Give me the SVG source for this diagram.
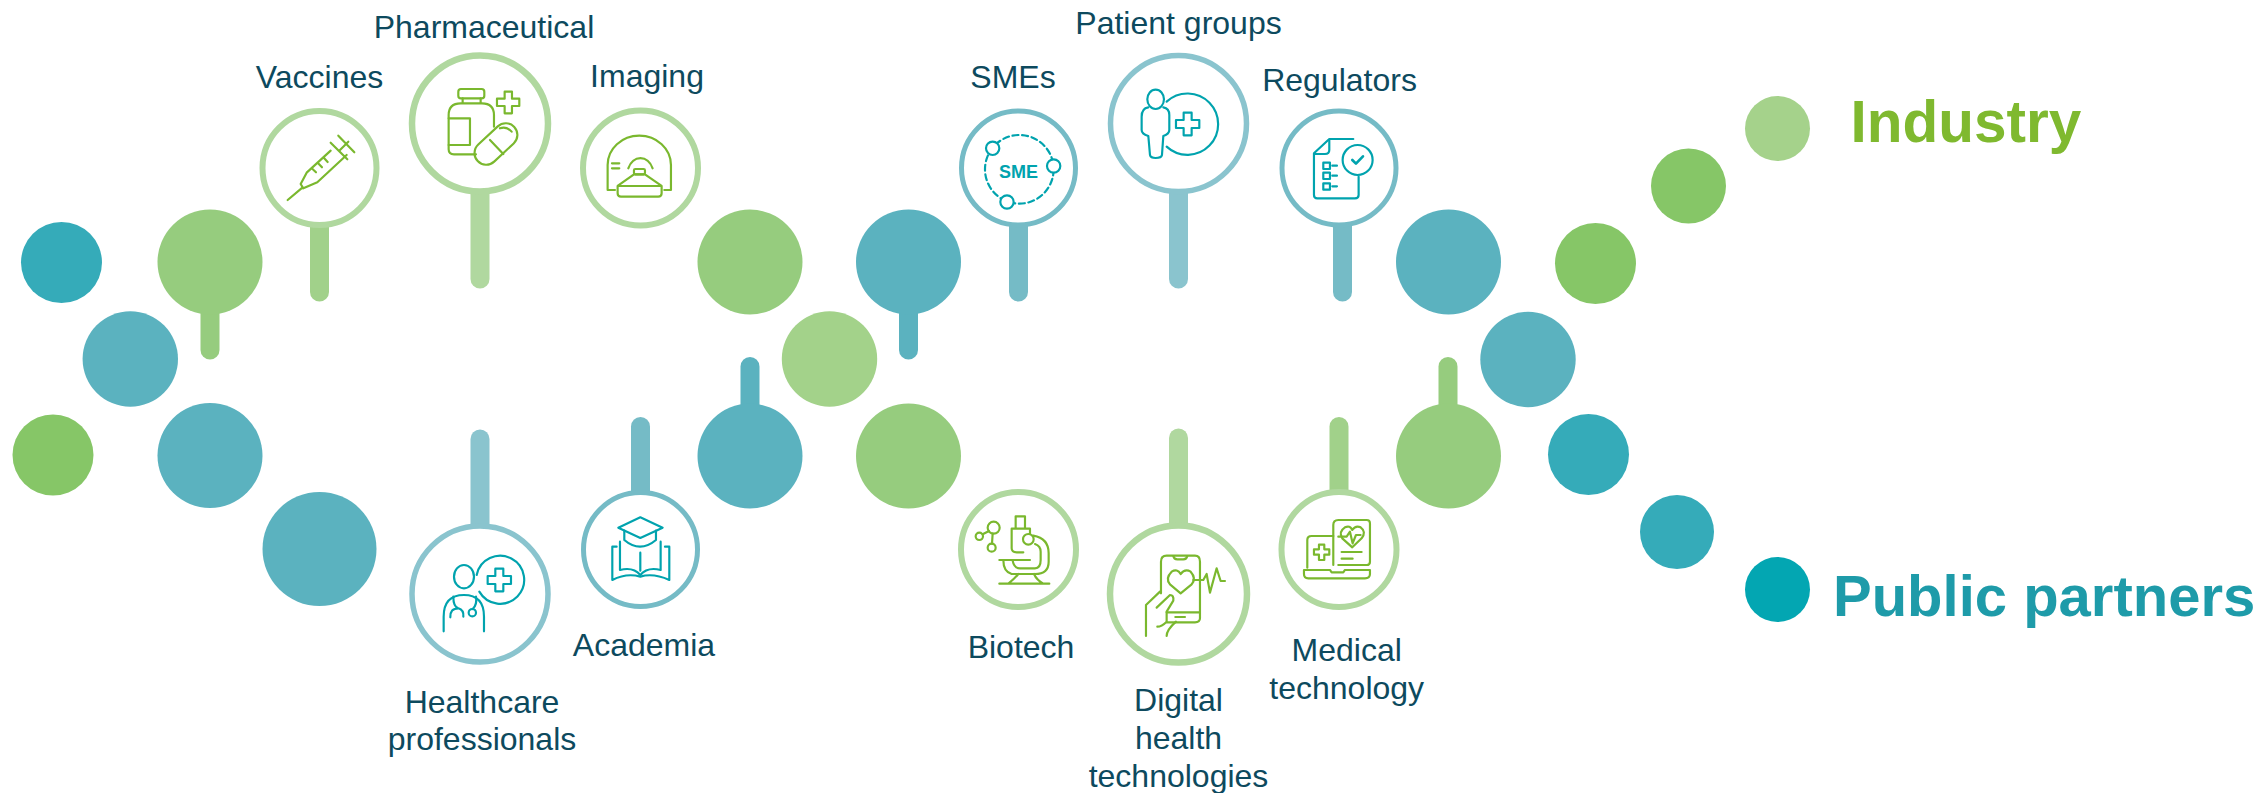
<svg xmlns="http://www.w3.org/2000/svg" width="2262" height="793" viewBox="0 0 2262 793">
<style>
.t{font-family:"Liberation Sans",Arial,sans-serif;font-size:32px;fill:#0D4A5E;text-anchor:middle}
.b{font-family:"Liberation Sans",Arial,sans-serif;font-weight:700}
.st{stroke-width:19;stroke-linecap:round;fill:none}
.ring{fill:#fff}
.ig{fill:none;stroke:#7AB82E;stroke-width:6.500;stroke-linecap:round;stroke-linejoin:round}
.it{fill:none;stroke:#00A3AE;stroke-width:6.500;stroke-linecap:round;stroke-linejoin:round}
.wf{fill:#fff}
.g1{fill:#96CC7E}.g2{fill:#86C667}.t1{fill:#5BB2BF}.t2{fill:#35ABB9}
</style>
<g id="connectors">
<line class="st" x1="210" y1="300" x2="210" y2="350" stroke="#96CC7E"/>
<line class="st" x1="319.500" y1="220" x2="319.500" y2="292" stroke="#A1D18A"/>
<line class="st" x1="480" y1="185" x2="480" y2="279" stroke="#B0D89F"/>
<line class="st" x1="480" y1="439" x2="480" y2="530" stroke="#8AC4CE"/>
<line class="st" x1="640.500" y1="426.500" x2="640.500" y2="496" stroke="#75BBC6"/>
<line class="st" x1="750" y1="366.500" x2="750" y2="420" stroke="#5BB2BF"/>
<line class="st" x1="908.500" y1="300" x2="908.500" y2="350" stroke="#5BB2BF"/>
<line class="st" x1="1018.500" y1="220" x2="1018.500" y2="292" stroke="#75BBC6"/>
<line class="st" x1="1178.500" y1="185" x2="1178.500" y2="279" stroke="#8AC4CE"/>
<line class="st" x1="1178.500" y1="438" x2="1178.500" y2="530" stroke="#B0D89F"/>
<line class="st" x1="1342.500" y1="220" x2="1342.500" y2="292" stroke="#75BBC6"/>
<line class="st" x1="1339" y1="426.500" x2="1339" y2="496" stroke="#A1D18A"/>
<line class="st" x1="1448" y1="366.500" x2="1448" y2="420" stroke="#96CC7E"/>
</g>
<g id="helix">
<circle class="t2" cx="61.500" cy="262.500" r="40.500"/>
<circle class="g1" cx="210" cy="262" r="52.500"/>
<circle class="t1" cx="130.300" cy="359" r="47.700"/>
<circle class="g2" cx="53" cy="455" r="40.500"/>
<circle class="t1" cx="210" cy="455.500" r="52.500"/>
<circle class="t1" cx="319.500" cy="549" r="57"/>
<circle class="g1" cx="750" cy="262" r="52.500"/>
<circle class="t1" cx="750" cy="456" r="52.500"/>
<circle cx="829.500" cy="359" r="47.700" fill="#A3D28A"/>
<circle class="t1" cx="908.500" cy="262" r="52.500"/>
<circle class="g1" cx="908.500" cy="456" r="52.500"/>
<circle class="t1" cx="1448.500" cy="262" r="52.500"/>
<circle class="g1" cx="1448.500" cy="456" r="52.500"/>
<circle class="t1" cx="1528" cy="359.500" r="47.700"/>
<circle class="g2" cx="1595.500" cy="263.500" r="40.500"/>
<circle class="t2" cx="1588.500" cy="454.500" r="40.500"/>
<circle class="g2" cx="1688.500" cy="186" r="37.500"/>
<circle class="t2" cx="1677" cy="532" r="37"/>
</g>
<g id="node-vaccines">
<circle class="ring" cx="319.500" cy="168" r="57" stroke="#B0D89F" stroke-width="6"/>
<g class="ig" transform="translate(240,0) scale(.3333)">
<path d="M143,600 L188,562 M182,552 L200,518 L272,452 M182,552 L190,565 L232,547 L320,465 M272,428 L322,478 M297,453 L325,425 M295,407 L343,457 M215,505 L228,517 M233,488 L246,502 M250,472 L263,486"/>
</g>
<text class="t" x="319.500" y="88">Vaccines</text>
</g>
<g id="node-pharmaceutical">
<circle class="ring" cx="480" cy="123.500" r="68" stroke="#B0D89F" stroke-width="6.500"/>
<g class="ig" transform="translate(240,0) scale(.3333)">
<rect x="655" y="267" width="78" height="28" rx="8"/>
<path d="M668,295 V310 M722,295 V310 M708,463 H642 Q626,463 626,448 V345 Q626,310 662,310 H726 Q762,310 762,345 V380"/>
<path d="M626,355 H690 V435 H626"/>
<path d="M794,275 H816 V296 H838 V318 H816 V340 H794 V318 H771 V296 H794 Z"/>
<rect x="693" y="397" width="150" height="70" rx="35" transform="rotate(-43 768 432)"/>
<path d="M750,420 L790,462 M780,385 Q800,378 815,395"/>
</g>
<text class="t" x="484" y="38">Pharmaceutical</text>
</g>
<g id="node-imaging">
<circle class="ring" cx="640.500" cy="168" r="57.500" stroke="#B0D89F" stroke-width="6"/>
<g class="ig" transform="translate(240,0) scale(.3333)">
<path d="M1125,570 H1103 V495 A95,88 0 0 1 1293,495 V570 H1273"/>
<path d="M1165,505 A40,52 0 0 1 1238,505"/>
<path d="M1133,558 L1182,523 H1215 L1265,558 V580 Q1265,590 1255,590 H1143 Q1133,590 1133,580 Z M1133,558 H1265"/>
<rect x="1182" y="507" width="33" height="16" rx="4"/>
<path d="M1116,490 H1138 M1116,505 H1138"/>
</g>
<text class="t" x="647" y="87">Imaging</text>
</g>
<g id="node-smes">
<circle class="ring" cx="1018.500" cy="168" r="57" stroke="#75BBC6" stroke-width="5"/>
<g class="it" transform="translate(940,0) scale(.3333)">
<circle cx="238" cy="508" r="103" stroke-dasharray="18 11"/>
<circle class="wf" cx="158" cy="445" r="20"/>
<circle class="wf" cx="341" cy="498" r="20"/>
<circle class="wf" cx="201" cy="606" r="20"/>
</g>
<text class="b" x="1018.500" y="177.500" font-size="18" fill="#00A3AE" text-anchor="middle">SME</text>
<text class="t" x="1013" y="88">SMEs</text>
</g>
<g id="node-patient-groups">
<circle class="ring" cx="1178.500" cy="123.500" r="68" stroke="#8AC4CE" stroke-width="5.500"/>
<g class="it" transform="translate(940,0) scale(.3333)">
<ellipse cx="647" cy="298" rx="25" ry="29"/>
<path d="M625,322 Q605,325 605,350 V390 Q605,402 625,408 Q628,440 630,465 Q632,474 647,474 Q664,474 666,465 L670,408 Q688,402 688,390 V345 Q688,325 670,322"/>
<path d="M680,305 A92,92 0 1 1 680,440"/>
<path d="M731,338 H755 V360 H778 V384 H755 V406 H731 V384 H708 V360 H731 Z"/>
</g>
<text class="t" x="1178.500" y="34">Patient groups</text>
</g>
<g id="node-regulators">
<circle class="ring" cx="1339" cy="168" r="57" stroke="#75BBC6" stroke-width="5"/>
<g class="it" transform="translate(940,0) scale(.3333)">
<path d="M1240,417 H1168 L1122,460 V585 Q1122,595 1132,595 H1245 Q1256,595 1256,585 V530"/>
<path d="M1168,420 V450 Q1168,462 1155,462 H1125"/>
<circle cx="1253" cy="480" r="45"/>
<path d="M1237,480 L1248,491 L1269,469" stroke-width="8"/>
<rect x="1150" y="488" width="20" height="19"/><rect x="1150" y="518" width="20" height="19"/><rect x="1150" y="550" width="20" height="19"/>
<path d="M1177,497 H1191 M1177,527 H1191 M1177,559 H1191"/>
</g>
<text class="t" x="1339.500" y="90.700">Regulators</text>
</g>
<g id="node-healthcare">
<circle class="ring" cx="480" cy="594" r="68" stroke="#8AC4CE" stroke-width="5.500"/>
<g class="it" transform="translate(390,420) scale(.3333)">
<ellipse cx="222" cy="470" rx="30" ry="35"/>
<path d="M161,634 V590 Q161,525 222,525 Q282,525 282,590 V634"/>
<path d="M190,530 Q190,560 205,565 Q222,570 220,590 M205,565 Q180,565 181,592 M258,530 Q262,555 248,567"/>
<circle cx="247" cy="578" r="11"/>
<path d="M260,465 A72,72 0 1 1 268,515"/>
<path d="M316,446 H340 V468 H363 V492 H340 V514 H316 V492 H293 V468 H316 Z"/>
</g>
<text class="t"><tspan x="482" y="712.500">Healthcare</tspan><tspan x="482" y="749.500">professionals</tspan></text>
</g>
<g id="node-academia">
<circle class="ring" cx="640.500" cy="549.500" r="57" stroke="#75BBC6" stroke-width="5"/>
<g class="it" transform="translate(390,420) scale(.3333)">
<path d="M751,292 L818,323 L751,354 L685,323 Z"/>
<path d="M703,332 V360 Q750,400 798,360 V332"/>
<path d="M751,398 V452 M690,365 V450 Q730,440 751,465 Q772,440 812,450 V365"/>
<path d="M680,380 H667 V480 Q710,458 751,470 Q790,458 838,480 V380 H825"/>
</g>
<text class="t" x="644" y="656">Academia</text>
</g>
<g id="node-biotech">
<circle class="ring" cx="1018.500" cy="549.500" r="57.500" stroke="#B0D89F" stroke-width="6"/>
<g class="ig" transform="translate(940,470) scale(.3333)">
<circle cx="161" cy="173" r="18"/><circle cx="118" cy="199" r="11"/><circle cx="155" cy="233" r="12"/>
<path d="M128,193 L147,183 M158,191 L156,221"/>
<path d="M227,176 V139 H255 V176 M215,176 H270 V192 M215,176 V235 Q215,247 230,247 H250"/>
<circle cx="265" cy="208" r="16"/>
<path d="M280,197 Q326,205 326,250 V275 Q326,312 285,312 H215 Q190,305 190,270 M218,272 Q222,295 240,295 H285 Q302,295 302,270 V245 Q302,228 285,222 M178,270 H270 M178,341 H328 M205,341 Q225,325 235,312 M310,341 Q290,330 282,312"/>
</g>
<text class="t" x="1021" y="657.700">Biotech</text>
</g>
<g id="node-digital">
<circle class="ring" cx="1178.500" cy="594" r="68.500" stroke="#B0D89F" stroke-width="6.500"/>
<g class="ig" transform="translate(940,470) scale(.3333)">
<path d="M663,370 V275 Q663,257 680,257 H765 Q780,257 780,275 V445 Q780,457 765,457 H680"/>
<path d="M700,258 Q702,268 712,268 H730 Q740,268 742,258 M680,427 H780 M706,441 H735"/>
<path d="M722,370 L690,343 Q675,325 695,305 Q712,295 722,312 Q735,295 752,305 Q770,325 755,343 Z"/>
<path d="M760,330 H790 L800,312 L810,368 L830,295 L842,333 H855"/>
<path d="M618,498 V405 L660,365 M650,413 L690,375 Q702,375 700,392 L680,425 V455 Q665,470 652,470 M708,455 Q680,480 680,498"/>
</g>
<text class="t"><tspan x="1178.500" y="711">Digital</tspan><tspan x="1178.500" y="749">health</tspan><tspan x="1178.500" y="787">technologies</tspan></text>
</g>
<g id="node-medical">
<circle class="ring" cx="1339" cy="549.500" r="57.500" stroke="#B0D89F" stroke-width="6"/>
<g class="ig" transform="translate(940,470) scale(.3333)">
<path d="M1180,285 V165 Q1180,150 1195,150 H1280 Q1290,150 1290,160 V275 Q1290,285 1280,285 H1195"/>
<path d="M1180,198 H1115 Q1102,198 1102,210 V293"/>
<path d="M1137,224 H1153 V238 H1168 V254 H1153 V270 H1137 V254 H1122 V238 H1137 Z"/>
<path d="M1237,232 L1207,205 Q1195,185 1215,172 Q1230,165 1237,180 Q1247,165 1262,172 Q1280,185 1265,205 Z"/>
<path d="M1195,200 H1220 L1230,185 L1238,220 L1248,195 H1262"/>
<path d="M1205,246 H1265 M1205,266 H1238"/>
<path d="M1092,300 H1170 L1175,307 H1210 L1215,300 H1290 V312 Q1290,325 1275,325 H1105 Q1092,325 1092,312 Z"/>
</g>
<text class="t"><tspan x="1346.700" y="660.700">Medical</tspan><tspan x="1346.700" y="699">technology</tspan></text>
</g>
<g id="legend-industry">
<circle cx="1777.500" cy="128.500" r="32.500" fill="#A5D28B"/>
<text class="b" x="1850.500" y="142" font-size="58.500" fill="#7FB92F">Industry</text>
</g>
<g id="legend-public">
<circle cx="1777.500" cy="589.500" r="32.500" fill="#03A6B2"/>
<text class="b" x="1833" y="616" font-size="58" fill="#1E9BA9">Public partners</text>
</g>
</svg>
